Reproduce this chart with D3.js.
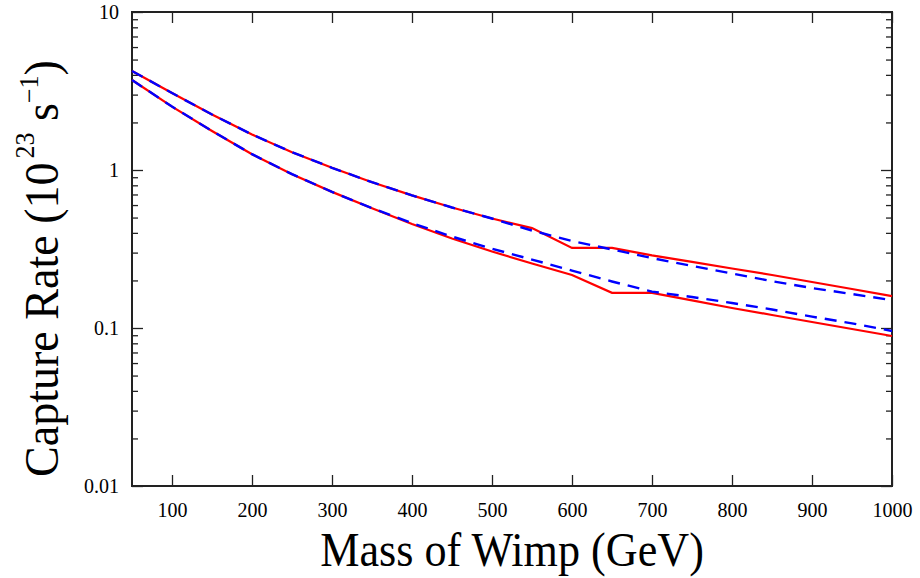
<!DOCTYPE html>
<html>
<head>
<meta charset="utf-8">
<script src="https://cdn.jsdelivr.net/npm/d3@7"></script>
<style>
  body { margin: 0; background: #fff; }
  svg { display: block; }
  text { font-family: "Liberation Serif", "Times New Roman", serif; fill: #000; }
</style>
</head>
<body>
<div id="chart"></div>
<script>
// WIMP mass (GeV)
const mass = [50, 100, 150, 200, 250, 300, 350, 400, 450, 500,
              550, 600, 650, 700, 750, 800, 850, 900, 950, 1000];

// capture rate, units of 10^23 s^-1
const upperSolid = [4.23, 3.07, 2.245, 1.678, 1.296, 1.033, 0.837, 0.691, 0.579, 0.493,
                    0.429, 0.321, 0.321, 0.288, 0.262, 0.238, 0.2165, 0.1955, 0.1765, 0.159];
const upperDashed = [4.23, 3.07, 2.245, 1.678, 1.296, 1.033, 0.837, 0.691, 0.579, 0.493,
                     0.414, 0.355, 0.314, 0.277, 0.247, 0.221, 0.198, 0.179, 0.164, 0.150];
const lowerSolid = [3.71, 2.52, 1.766, 1.259, 0.941, 0.727, 0.573, 0.455, 0.3685, 0.305,
                    0.256, 0.2165, 0.167, 0.167, 0.1497, 0.1338, 0.1209, 0.1091, 0.0986, 0.089];
const lowerDashed = [3.71, 2.52, 1.766, 1.259, 0.941, 0.727, 0.573, 0.461, 0.379, 0.3176,
                     0.271, 0.231, 0.197, 0.170, 0.157, 0.144, 0.131, 0.118, 0.107, 0.0957];

const xTicks = [100, 200, 300, 400, 500, 600, 700, 800, 900, 1000];
const yTicks = [0.01, 0.1, 1, 10];
const yMinor = [2, 3, 4, 5, 6, 7, 8, 9].flatMap(m => [0.01 * m, 0.1 * m, m]);

const width = 920, height = 578;
const margin = { top: 12, right: 28, bottom: 92, left: 132 };
const chartWidth = width - margin.left - margin.right;
const chartHeight = height - margin.top - margin.bottom;

const svg = d3.select("#chart").append("svg")
    .attr("width", width)
    .attr("height", height);

const g = svg.append("g")
    .attr("transform", `translate(${margin.left},${margin.top})`);

const x = d3.scaleLinear().domain([50, 1000]).range([0, chartWidth]);
const y = d3.scaleLog().domain([0.01, 10]).range([chartHeight, 0]);

// axes: ticks point inwards on all four sides
function styleAxis(sel) {
    sel.select(".domain").remove();
    sel.selectAll(".tick line").attr("stroke", "#222").attr("stroke-width", 1.3);
    sel.selectAll(".tick text").style("font-size", "20px").attr("fill", "#000");
}

g.append("g")
    .attr("transform", `translate(0,${chartHeight})`)
    .call(d3.axisBottom(x).tickValues(xTicks).tickSize(-11).tickPadding(17)
        .tickFormat(d => String(d)).tickSizeOuter(0))
    .call(styleAxis);

g.append("g")
    .call(d3.axisTop(x).tickValues(xTicks).tickSize(-11).tickFormat("").tickSizeOuter(0))
    .call(styleAxis);

g.append("g")
    .call(d3.axisLeft(y).tickValues(yTicks).tickSize(-11).tickPadding(13)
        .tickFormat(d => String(d)).tickSizeOuter(0))
    .call(styleAxis);

g.append("g")
    .call(d3.axisLeft(y).tickValues(yMinor).tickSize(-6).tickFormat("").tickSizeOuter(0))
    .call(styleAxis);

g.append("g")
    .attr("transform", `translate(${chartWidth},0)`)
    .call(d3.axisRight(y).tickValues(yTicks).tickSize(-11).tickFormat("").tickSizeOuter(0))
    .call(styleAxis);

g.append("g")
    .attr("transform", `translate(${chartWidth},0)`)
    .call(d3.axisRight(y).tickValues(yMinor).tickSize(-6).tickFormat("").tickSizeOuter(0))
    .call(styleAxis);

// frame
g.append("rect")
    .attr("width", chartWidth)
    .attr("height", chartHeight)
    .attr("fill", "none")
    .attr("stroke", "#222")
    .attr("stroke-width", 2);

// curves
const line = d3.line()
    .x((d, i) => x(mass[i]))
    .y(d => y(d));

const series = [
    { values: upperSolid, color: "#ff0000", dash: null, w: 2.2 },
    { values: lowerSolid, color: "#ff0000", dash: null, w: 2.2 },
    { values: upperDashed, color: "#0000ff", dash: "12,8", w: 2.4 },
    { values: lowerDashed, color: "#0000ff", dash: "12,8", w: 2.4 }
];

g.selectAll("path.curve")
    .data(series)
    .enter()
    .append("path")
    .attr("class", "curve")
    .attr("d", d => line(d.values))
    .attr("fill", "none")
    .attr("stroke", d => d.color)
    .attr("stroke-width", d => d.w)
    .attr("stroke-dasharray", d => d.dash);

// axis titles
svg.append("text")
    .attr("transform", `translate(${margin.left + chartWidth / 2},566) scale(0.92,1)`)
    .attr("text-anchor", "middle")
    .style("font-size", "48px")
    .text("Mass of Wimp (GeV)");

const yTitle = svg.append("text")
    .attr("transform", "translate(58,477) rotate(-90) scale(0.96,1)")
    .style("font-size", "48px");
yTitle.append("tspan").text("Capture Rate (10");
yTitle.append("tspan").attr("dx", 4).attr("dy", -24).style("font-size", "27px").text("23");
yTitle.append("tspan").attr("dy", 24).text(" s");
yTitle.append("tspan").attr("dy", -20).style("font-size", "27px").text("\u22121");
yTitle.append("tspan").attr("dy", 20).text(")");
</script>
</body>
</html>
